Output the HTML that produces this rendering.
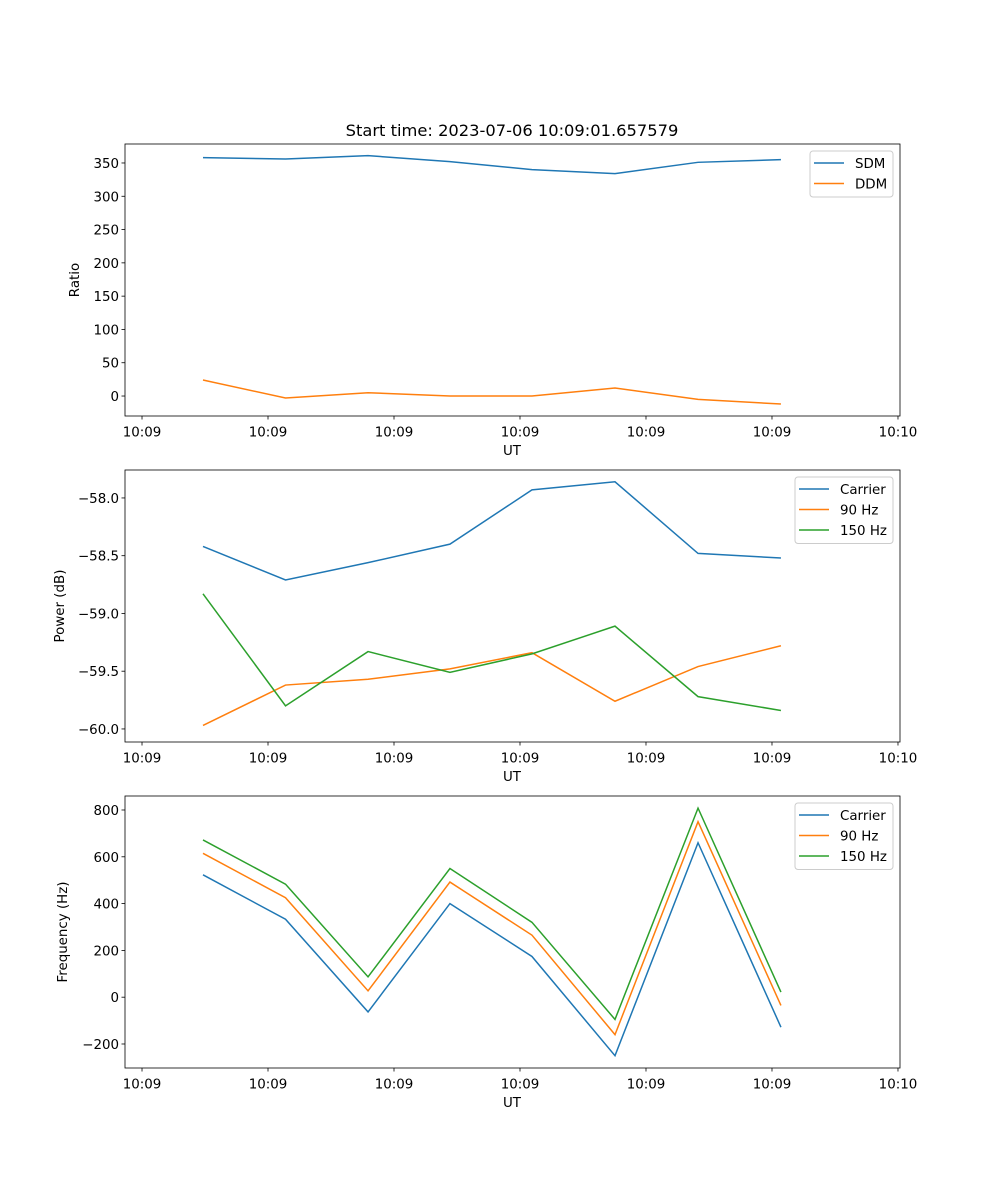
<!DOCTYPE html>
<html><head><meta charset="utf-8"><style>
body{margin:0;background:#fff}
svg{display:block;font-family:"DejaVu Sans","Liberation Sans",sans-serif}
</style></head><body>
<svg id="fig" width="1000" height="1200"></svg>
<script>
const times=[4.84,11.39,17.94,24.44,30.95,37.54,44.13,50.71];
const xTickVals=[0,10,20,30,40,50,60];
const xTickLabels=["10:09","10:09","10:09","10:09","10:09","10:09","10:10"];
const sdm=[358,356,361,352,340,334,351,355];
const ddm=[24,-3,5,0,0,12,-5,-12];
const pCarrier=[-58.42,-58.71,-58.56,-58.40,-57.93,-57.86,-58.48,-58.52];
const p90=[-59.97,-59.62,-59.57,-59.48,-59.34,-59.76,-59.46,-59.28];
const p150=[-58.83,-59.80,-59.33,-59.51,-59.35,-59.11,-59.72,-59.84];
const fCarrier=[523,333,-63,400,174,-250,660,-128];
const f90=[615,425,27,492,265,-160,750,-35];
const f150=[672,483,87,550,320,-95,808,22];
const y1Ticks=[0,50,100,150,200,250,300,350];
const y2Ticks=[-60.0,-59.5,-59.0,-58.5,-58.0];
const y3Ticks=[-200,0,200,400,600,800];
const C1="#1f77b4",C2="#ff7f0e",C3="#2ca02c";
const FS=13.4;
const NS="http://www.w3.org/2000/svg";
const svg=document.getElementById('fig');
function mk(t,a,p){const e=document.createElementNS(NS,t);for(const k in a)e.setAttribute(k,a[k]);(p||svg).appendChild(e);return e;}
const L=125,R=900,x0=-1.35,x1=60.16;
const sx=v=>L+(v-x0)/(x1-x0)*(R-L);
function panel(name,top,bot,ymin,ymax,yt,fmt,ylabel,series,leg){
  const g=mk('g',{});
  
  
  const sy=v=>bot-(v-ymin)/(ymax-ymin)*(bot-top);
  series.forEach(s=>{
    const p=mk('polyline',{points:times.map((t,i)=>sx(t)+','+sy(s.v[i])).join(' '),fill:'none',stroke:s.c,'stroke-width':1.5},g);
    
    
  });
  const fr=mk('rect',{x:L,y:top,width:R-L,height:bot-top,fill:'none',stroke:'#000','stroke-width':0.8},g);
  
  
  xTickVals.forEach((v,i)=>{
    mk('line',{x1:sx(v),x2:sx(v),y1:bot,y2:bot+3.5,stroke:'#000','stroke-width':0.8},g);
    const t=mk('text',{x:sx(v),y:bot+20.5,'font-size':FS,'text-anchor':'middle'},g);t.textContent=xTickLabels[i];
    
    
  });
  const xl=mk('text',{x:512,y:bot+39,'font-size':FS,'text-anchor':'middle'},g);xl.textContent='UT';
  
  
  yt.forEach(v=>{
    mk('line',{x1:L-3.5,x2:L,y1:sy(v),y2:sy(v),stroke:'#000','stroke-width':0.8},g);
    const t=mk('text',{x:L-6,y:sy(v)+5,'font-size':FS,'text-anchor':'end'},g);t.textContent=fmt(v);
    
    
  });
  const yl=mk('text',{x:0,y:0,'font-size':FS,'text-anchor':'middle',transform:`translate(${leg.yx},${(top+bot)/2}) rotate(-90)`},g);yl.textContent=ylabel;
  
  
  const lg=mk('g',{},g);
  
  
  mk('rect',{x:leg.x,y:top+7,width:R-7-leg.x,height:series.length*20.5+5,rx:3,fill:'#fff',stroke:'#ccc','stroke-width':1},lg);
  series.forEach((s,i)=>{
    const y=top+19+i*20.5;
    mk('line',{x1:leg.x+4,x2:leg.x+34,y1:y,y2:y,stroke:s.c,'stroke-width':1.5},lg);
    const t=mk('text',{x:leg.x+45,y:y+5,'font-size':FS},lg);t.textContent=s.l;
    
    
  });
}
const ti=mk('text',{x:512,y:136,'font-size':16.3,'text-anchor':'middle'});ti.textContent='Start time: 2023-07-06 10:09:01.657579';


panel('ratio-panel',144,416,-30,378.5,y1Ticks,v=>v,'Ratio',[{v:sdm,c:C1,l:'SDM',n:'sdm'},{v:ddm,c:C2,l:'DDM',n:'ddm'}],{x:810,yx:79});
panel('power-panel',470,742,-60.113,-57.758,y2Ticks,v=>'\u2212'+Math.abs(v).toFixed(1),'Power (dB)',[{v:pCarrier,c:C1,l:'Carrier',n:'carrier-power'},{v:p90,c:C2,l:'90 Hz',n:'90hz-power'},{v:p150,c:C3,l:'150 Hz',n:'150hz-power'}],{x:795,yx:64});
panel('frequency-panel',796,1068,-302.6,859.8,y3Ticks,v=>v<0?'\u2212'+Math.abs(v):v,'Frequency (Hz)',[{v:fCarrier,c:C1,l:'Carrier',n:'carrier-freq'},{v:f90,c:C2,l:'90 Hz',n:'90hz-freq'},{v:f150,c:C3,l:'150 Hz',n:'150hz-freq'}],{x:795,yx:67});
</script>
</body></html>
